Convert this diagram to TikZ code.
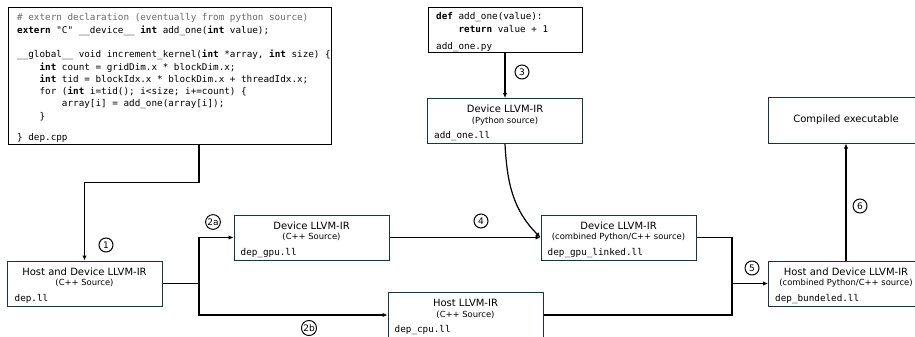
\documentclass[tikz,border=0pt]{standalone}
\usepackage{fontspec}
\setmainfont{DejaVu Sans}
\setmonofont{DejaVu Sans Mono}
\usepackage{tikz}
\usetikzlibrary{arrows.meta}
\definecolor{irBorder}{RGB}{28,52,66}
\definecolor{commentGray}{RGB}{105,105,105}
\newcommand{\codeind}{\hspace*{2.408em}}

\begin{document}
\begin{tikzpicture}[x=1pt, y=-1pt,
  srcbox/.style={draw=black, line width=1pt, inner sep=0pt},
  irbox/.style={draw=irBorder, line width=1pt, minimum width=155pt, minimum height=45pt, inner sep=0pt},
  code/.style={anchor=north west, align=left, inner sep=0pt, font=\ttfamily\fontsize{9.3}{12.3}\selectfont},
  ttl/.style={anchor=base, inner sep=0pt, font=\fontsize{10}{12}\selectfont},
  subttl/.style={anchor=base, inner sep=0pt, font=\fontsize{8.4}{9}\selectfont},
  fname/.style={anchor=base west, inner sep=0pt, font=\ttfamily\fontsize{9.3}{12}\selectfont},
  stepnum/.style={circle, draw, line width=1pt, inner sep=0.6pt, minimum size=14pt, font=\fontsize{9}{10}\selectfont},
  wire/.style={line width=1.2pt},
  flow/.style={line width=1.2pt, -{Latex[length=5pt,width=4.5pt]}}]
\useasboundingbox (0,0) rectangle (915,337);

% source files
\node[srcbox, minimum width=323pt, minimum height=136pt] (cpp) at (169.5,76) {};
\node[code] (cppcode) at (17,13.5) {{\color{commentGray}\# extern declaration (eventually from python source)}\\
\textbf{extern} "C" \_\_device\_\_ \textbf{int} add\_one(\textbf{int} value);\\[12.3pt]
\_\_global\_\_ void increment\_kernel(\textbf{int} *array, \textbf{int} size) \{\\
\codeind\textbf{int} count = gridDim.x * blockDim.x;\\
\codeind\textbf{int} tid = blockIdx.x * blockDim.x + threadIdx.x;\\
\codeind for (\textbf{int} i=tid(); i<size; i+=count) \{\\
\codeind\codeind array[i] = add\_one(array[i]);\\
\codeind\}\\[9pt]
\} dep.cpp};

\node[srcbox, minimum width=154pt, minimum height=45pt] (py) at (505,30.5) {};
\node[code] (pycode) at (436,12.5) {\textbf{def} add\_one(value):\\
\codeind\textbf{return} value + 1};
\node[fname] at (436,50) {add\_one.py};

% LLVM-IR stages
\node[irbox] (hdcpp) at (84.5,283.5) {};
\node[ttl] at ([yshift=-14.5pt]hdcpp.north) {Host and Device LLVM-IR};
\node[subttl] at ([yshift=-25pt]hdcpp.north) {(C++ Source)};
\node[fname] at ([shift={(8pt,-40.5pt)}]hdcpp.north west) {dep.ll};

\node[irbox] (dcpp) at (311.5,237.5) {};
\node[ttl] at ([yshift=-14.5pt]dcpp.north) {Device LLVM-IR};
\node[subttl] at ([yshift=-25pt]dcpp.north) {(C++ Source)};
\node[fname] at ([shift={(7pt,-40.5pt)}]dcpp.north west) {dep\_gpu.ll};

\node[irbox] (hcpu) at (465.5,315) {};
\node[ttl] at ([yshift=-14.5pt]hcpu.north) {Host LLVM-IR};
\node[subttl] at ([yshift=-25pt]hcpu.north) {(C++ Source)};
\node[fname] at ([shift={(7pt,-40.5pt)}]hcpu.north west) {dep\_cpu.ll};

\node[irbox] (dpy) at (505,121) {};
\node[ttl] at ([yshift=-14.5pt]dpy.north) {Device LLVM-IR};
\node[subttl] at ([yshift=-25pt]dpy.north) {(Python source)};
\node[fname] at ([shift={(7pt,-40.5pt)}]dpy.north west) {add\_one.ll};

\node[irbox] (dcomb) at (618.5,237.5) {};
\node[ttl] at ([yshift=-14.5pt]dcomb.north) {Device LLVM-IR};
\node[subttl] at ([yshift=-25pt]dcomb.north) {(combined Python/C++ source)};
\node[fname] at ([shift={(7pt,-40.5pt)}]dcomb.north west) {dep\_gpu\_linked.ll};

\node[irbox] (hdcomb) at (846,283.5) {};
\node[ttl] at ([yshift=-14.5pt]hdcomb.north) {Host and Device LLVM-IR};
\node[subttl] at ([yshift=-25pt]hdcomb.north) {(combined Python/C++ source)};
\node[fname] at ([shift={(7pt,-40.5pt)}]hdcomb.north west) {dep\_bundeled.ll};

\node[irbox, minimum height=46pt, font=\fontsize{10}{12}\selectfont] (exe) at (846,120) {Compiled executable};

% connectors
\coordinate (fork) at (199,283.5);
\coordinate (merge) at (732,283.5);
\draw[flow] ([xshift=29.5pt]cpp.south) -- ++(0,38) -| (hdcpp.north);
\draw[wire] (hdcpp.east) -- (fork);
\draw[flow] (fork) |- (dcpp.west);
\draw[flow] (fork) |- (hcpu.west);
\draw[flow] (py.south) -- (dpy.north);
\draw[flow] (dcpp.east) -- (dcomb.west);
\draw[flow] (dpy.south) to[out=-87, in=135] (dcomb.west);
\draw[wire] (dcomb.east) -| (merge);
\draw[wire] (hcpu.east) -| (merge);
\draw[flow] (merge) -- (hdcomb.west);
\draw[flow] (hdcomb.north) -- (exe.south);

% step numbers
\node[stepnum] (s1) at (106,245) {1};
\node[stepnum] (s2a) at (213,222) {2a};
\node[stepnum] (s2b) at (309,328) {2b};
\node[stepnum] (s3) at (522,72) {3};
\node[stepnum] (s4) at (481,221) {4};
\node[stepnum] (s5) at (752,268) {5};
\node[stepnum] (s6) at (860,206) {6};
\end{tikzpicture}
\end{document}
